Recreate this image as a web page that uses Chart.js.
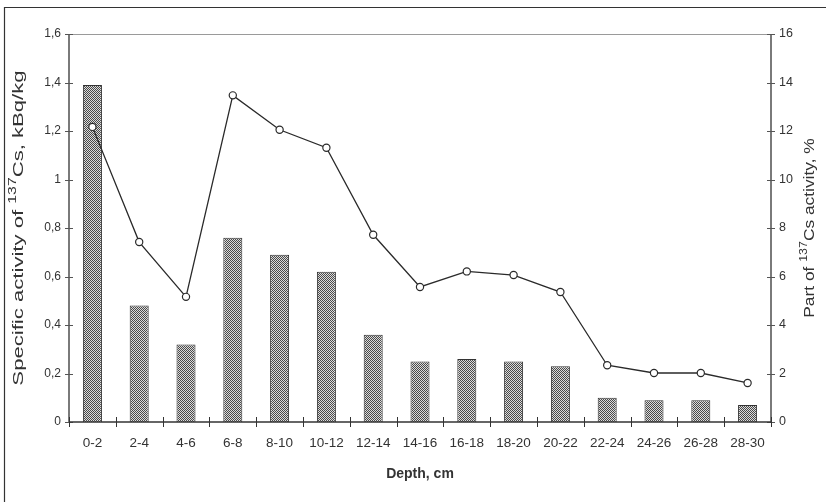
<!DOCTYPE html>
<html><head><meta charset="utf-8">
<script src="https://cdn.jsdelivr.net/npm/chart.js@4/dist/chart.umd.min.js"></script>
<style>html,body{margin:0;padding:0;background:#fff;}canvas{display:block;}</style>
</head><body>
<canvas id="c" width="826" height="502"></canvas>
<script>
const categories = ['0-2','2-4','4-6','6-8','8-10','10-12','12-14','14-16','16-18','18-20','20-22','22-24','24-26','26-28','28-30'];
const activity = [1.39,0.48,0.32,0.76,0.69,0.62,0.36,0.25,0.26,0.25,0.23,0.10,0.09,0.09,0.07];
const percent = [12.17,7.42,5.16,13.47,12.05,11.31,7.72,5.57,6.21,6.06,5.36,2.34,2.02,2.02,1.61];
const leftAxis = {min:0, max:1.6, step:0.2};
const rightAxis = {min:0, max:16, step:2};
const xTitle = 'Depth, cm';
const leftTitle = [['Specific activity of ',false],['137',true],['Cs, kBq/kg',false]];
const rightTitle = [['Part of ',false],['137',true],['Cs activity, %',false]];

const FONT = "'Liberation Sans', Arial, sans-serif";
const TXT = '#333';

// checker pattern for bars
const pc = document.createElement('canvas'); pc.width = 2; pc.height = 2;
const pctx = pc.getContext('2d');
pctx.fillStyle = '#dcdcdc'; pctx.fillRect(0,0,2,2);
pctx.fillStyle = '#4a4a4a'; pctx.fillRect(0,0,1,1); pctx.fillRect(1,1,1,1);
const ctx0 = document.getElementById('c').getContext('2d');
const pattern = ctx0.createPattern(pc, 'repeat');

function drawVerticalRich(ctx, parts, cx, cy, size, stretch) {
  ctx.save();
  ctx.translate(cx, cy);
  ctx.rotate(-Math.PI/2);
  ctx.scale(stretch, 1);
  const f = (sup) => (sup ? Math.round(size*0.68) : size) + 'px ' + FONT;
  let total = 0;
  for (const [t,s] of parts) { ctx.font = f(s); total += ctx.measureText(t).width; }
  let x = -total/2;
  ctx.fillStyle = TXT; ctx.textBaseline = 'middle'; ctx.textAlign = 'left';
  for (const [t,s] of parts) {
    ctx.font = f(s);
    ctx.fillText(t, x, s ? -size*0.38 : 0);
    x += ctx.measureText(t).width;
  }
  ctx.restore();
}

const decor = {
  id: 'decor',
  beforeDraw(chart) {
    const ctx = chart.ctx;
    ctx.save();
    ctx.strokeStyle = '#333'; ctx.lineWidth = 1.2;
    ctx.beginPath(); ctx.moveTo(4.5, 502); ctx.lineTo(4.5, 7.5); ctx.lineTo(826, 7.5); ctx.stroke();
    ctx.restore();
  },
  afterDraw(chart) {
    const ctx = chart.ctx, a = chart.chartArea;
    const x = chart.scales.x, y = chart.scales.y, y1 = chart.scales.y1;
    ctx.save();
    ctx.strokeStyle = '#9a9a9a'; ctx.lineWidth = 1;
    const yt = Math.round(y.getPixelForValue(leftAxis.max)) + 0.5;
    ctx.beginPath(); ctx.moveTo(a.left, yt); ctx.lineTo(a.right, yt); ctx.stroke();
    ctx.strokeStyle = '#7a7a7a'; ctx.lineWidth = 2;
    ctx.beginPath();
    ctx.moveTo(a.left, a.top); ctx.lineTo(a.left, a.bottom);
    ctx.moveTo(a.right, a.top); ctx.lineTo(a.right, a.bottom);
    ctx.stroke();
    ctx.lineWidth = 1; ctx.strokeStyle = '#555';
    ctx.beginPath();
    for (const t of y.ticks) { const p = Math.round(y.getPixelForValue(t.value)) + 0.5; ctx.moveTo(a.left-4, p); ctx.lineTo(a.left+4, p); }
    for (const t of y1.ticks) { const p = Math.round(y1.getPixelForValue(t.value)) + 0.5; ctx.moveTo(a.right-4, p); ctx.lineTo(a.right+4, p); }
    ctx.stroke();
    const y0 = y.getPixelForValue(0);
    ctx.strokeStyle = '#333'; ctx.lineWidth = 1.5;
    ctx.beginPath(); ctx.moveTo(a.left, y0); ctx.lineTo(a.right, y0); ctx.stroke();
    const half = (x.getPixelForValue(1) - x.getPixelForValue(0)) / 2;
    ctx.lineWidth = 1; ctx.strokeStyle = '#333';
    ctx.beginPath();
    for (let i = 0; i <= categories.length; i++) {
      const px = Math.round(i < categories.length ? x.getPixelForValue(i) - half : x.getPixelForValue(categories.length-1) + half) + 0.5;
      ctx.moveTo(px, y0-5); ctx.lineTo(px, y0+5);
    }
    ctx.stroke();
    ctx.restore();
    const cy = (a.top + a.bottom) / 2;
    drawVerticalRich(ctx, leftTitle, 19, cy, 14, 1.58);
    drawVerticalRich(ctx, rightTitle, 810, cy, 14, 1.24);
  }
};

const fmtLeft = v => { const r = Math.round(v*10)/10; return String(r).replace('.', ','); };

new Chart(document.getElementById('c'), {
  data: {
    labels: categories,
    datasets: [
      { type:'line', data: percent, yAxisID:'y1', borderColor:'#2a2a2a', borderWidth:1.3, tension:0,
        pointRadius:3.6, pointBackgroundColor:'#fff', pointBorderColor:'#2a2a2a', pointBorderWidth:1.2, order:0 },
      { type:'bar', data: activity, yAxisID:'y', backgroundColor: pattern, borderColor:'#333', borderWidth:1,
        categoryPercentage:1, barPercentage:0.406, order:1 }
    ]
  },
  options: {
    responsive:false, animation:false,
    layout:{ padding:{ top:34, left:0, right:0, bottom:0 } },
    plugins:{ legend:{display:false}, tooltip:{enabled:false} },
    scales:{
      x:{ type:'category', offset:true, grid:{display:false}, border:{display:false},
        ticks:{ color:TXT, font:{family:FONT, size:13.5}, padding:5, maxRotation:0, autoSkip:false },
        title:{ display:true, text:xTitle, color:TXT, font:{family:FONT, size:14, weight:'bold'}, padding:{top:0,bottom:19} },
        afterFit(s){ s.height = 80; } },
      y:{ position:'left', min:leftAxis.min, max:leftAxis.max, grid:{display:false, drawTicks:false}, border:{display:false},
        ticks:{ stepSize:leftAxis.step, color:TXT, font:{family:FONT, size:12}, padding:8, callback:fmtLeft },
        afterFit(s){ s.width = 69; } },
      y1:{ position:'right', min:rightAxis.min, max:rightAxis.max, grid:{display:false, drawTicks:false}, border:{display:false},
        ticks:{ stepSize:rightAxis.step, color:TXT, font:{family:FONT, size:12.5}, padding:8 },
        afterFit(s){ s.width = 55; } }
    }
  },
  plugins:[decor]
});
</script>
</body></html>
